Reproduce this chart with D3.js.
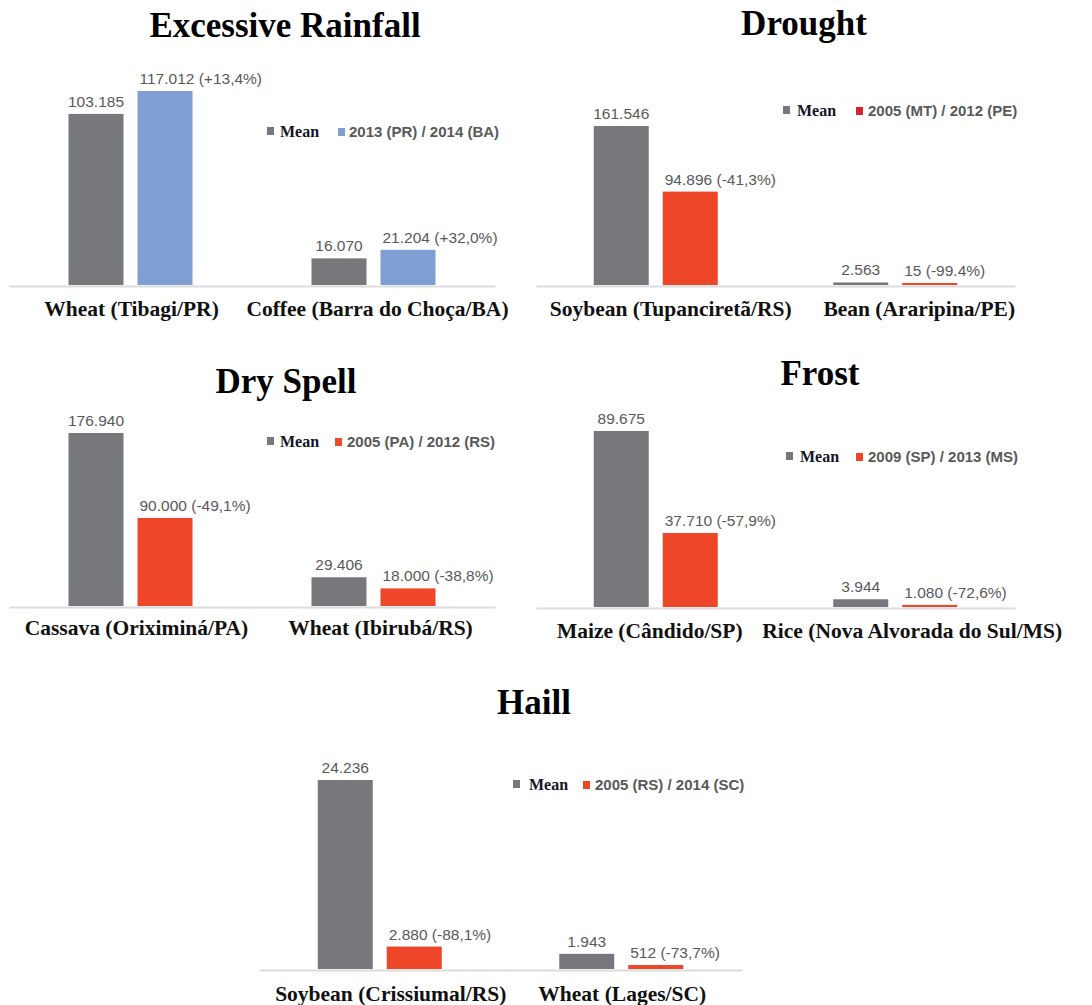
<!DOCTYPE html>
<html>
<head>
<meta charset="utf-8">
<script src="https://cdn.jsdelivr.net/npm/d3@7"></script>
<style>
  html, body { margin: 0; padding: 0; background: #ffffff; }
  svg { display: block; }
</style>
</head>
<body>
<svg id="chart" width="1092" height="1005"></svg>
<script>
// ---------------- DATA ----------------
const panelTitles = ["Excessive Rainfall", "Drought", "Dry Spell", "Frost", "Haill"];
const categories = [
  ["Wheat (Tibagi/PR)", "Coffee (Barra do Choça/BA)"],
  ["Soybean (Tupanciretã/RS)", "Bean (Araripina/PE)"],
  ["Cassava (Oriximiná/PA)", "Wheat (Ibirubá/RS)"],
  ["Maize (Cândido/SP)", "Rice (Nova Alvorada do Sul/MS)"],
  ["Soybean (Crissiumal/RS)", "Wheat (Lages/SC)"]
];
const meanValues = [
  [103185, 16070],
  [161546, 2563],
  [176940, 29406],
  [89675, 3944],
  [24236, 1943]
];
const eventValues = [
  [117012, 21204],
  [94896, 15],
  [90000, 18000],
  [37710, 1080],
  [2880, 512]
];
const changeLabels = [
  ["(+13,4%)", "(+32,0%)"],
  ["(-41,3%)", "(-99.4%)"],
  ["(-49,1%)", "(-38,8%)"],
  ["(-57,9%)", "(-72,6%)"],
  ["(-88,1%)", "(-73,7%)"]
];
const meanLabel = "Mean";
const eventLegendLabels = [
  "2013 (PR) / 2014 (BA)",
  "2005 (MT) / 2012 (PE)",
  "2005 (PA) / 2012 (RS)",
  "2009 (SP) / 2013 (MS)",
  "2005 (RS) / 2014 (SC)"
];

// ---------------- STYLE / LAYOUT ----------------
const meanColor = "#77787c";
const eventColors = ["#7f9fd3", "#ee4628", "#ee4628", "#ee4628", "#ee4628"];
const eventSwatchColors = ["#7f9fd3", "#d42430", "#ee4628", "#ee4628", "#ee4628"];

// x0, x1: axis extent; base: baseline y; maxH: pixel height of the panel's largest value
const layout = [
  { x0: 9,   x1: 495,  base: 285, maxH: 194, titleX: 285, titleY: 37,  legX: 267, legY: 137, meanX: 280, sw2X: 338, txtX: 349, labY: 316, labDx: [1, 4] },
  { x0: 536, x1: 1015, base: 285, maxH: 159, titleX: 804, titleY: 35,  legX: 783, legY: 116, meanX: 797, sw2X: 856, txtX: 868, labY: 316, labDx: [15, 24] },
  { x0: 9,   x1: 495,  base: 606, maxH: 173, titleX: 286, titleY: 393, legX: 267, legY: 447, meanX: 280, sw2X: 335, txtX: 347, labY: 635, labDx: [6, 7] },
  { x0: 536, x1: 1015, base: 607, maxH: 176, titleX: 820, titleY: 385, legX: 786, legY: 462, meanX: 800, sw2X: 856, txtX: 868, labY: 638, labDx: [-6, 17] },
  { x0: 259, x1: 742,  base: 969, maxH: 189, titleX: 534, titleY: 714, legX: 513, legY: 790, meanX: 529, sw2X: 583, txtX: 595, labY: 1001, labDx: [11, 1] }
];

const fmt = d3.formatLocale({ decimal: ",", thousands: ".", grouping: [3], currency: ["", ""] }).format(",d");

const svg = d3.select("#chart");

panelTitles.forEach((title, p) => {
  const L = layout[p];
  const g = svg.append("g");

  const x = d3.scaleBand().domain(categories[p]).range([L.x0, L.x1]).padding(0);
  const inner = d3.scaleBand().domain(["mean", "event"]).range([-62, 62]).paddingInner(0.203).paddingOuter(0);
  const maxV = d3.max([...meanValues[p], ...eventValues[p]]);
  const y = d3.scaleLinear().domain([0, maxV]).range([L.base, L.base - L.maxH]);

  // title
  g.append("text")
    .attr("x", L.titleX).attr("y", L.titleY)
    .attr("text-anchor", "middle")
    .attr("font-family", "Liberation Serif, Times New Roman, serif")
    .attr("font-weight", "bold").attr("font-size", 35)
    .attr("fill", "#000").text(title);

  // bars
  const rows = categories[p].map((c, i) => ({ c, i, mean: meanValues[p][i], ev: eventValues[p][i], ch: changeLabels[p][i] }));
  const barTop = v => Math.min(y(v), L.base - 2);

  rows.forEach(r => {
    const cx = x(r.c) + x.bandwidth() / 2;
    const mx = cx + inner("mean");
    const ex = cx + inner("event");
    const bw = inner.bandwidth();

    g.append("rect").attr("x", mx).attr("y", barTop(r.mean))
      .attr("width", bw).attr("height", L.base - barTop(r.mean)).attr("fill", meanColor);
    g.append("rect").attr("x", ex).attr("y", barTop(r.ev))
      .attr("width", bw).attr("height", L.base - barTop(r.ev)).attr("fill", eventColors[p]);

    g.append("text").attr("x", mx + bw / 2).attr("y", barTop(r.mean) - 7)
      .attr("text-anchor", "middle")
      .attr("font-family", "Liberation Sans, Arial, sans-serif").attr("font-size", 15.5)
      .attr("fill", "#595959").text(fmt(r.mean));
    g.append("text").attr("x", ex + 2).attr("y", barTop(r.ev) - 7)
      .attr("text-anchor", "start")
      .attr("font-family", "Liberation Sans, Arial, sans-serif").attr("font-size", 15.5)
      .attr("fill", "#595959").text(fmt(r.ev) + " " + r.ch);

    g.append("text").attr("x", cx + L.labDx[r.i]).attr("y", L.labY)
      .attr("text-anchor", "middle")
      .attr("font-family", "Liberation Serif, Times New Roman, serif")
      .attr("font-weight", "bold").attr("font-size", 21.5)
      .attr("fill", "#111").text(r.c);
  });

  // axis baseline
  const axis = g.append("g").attr("transform", `translate(0,${L.base + 1})`)
    .call(d3.axisBottom(x).tickSize(0).tickSizeOuter(0).tickFormat(""));
  axis.select(".domain").attr("stroke", "#dcdcdc").attr("stroke-width", 2);

  // legend
  const lg = g.append("g");
  lg.append("rect").attr("x", L.legX).attr("y", L.legY - 10).attr("width", 7).attr("height", 8).attr("fill", meanColor);
  lg.append("text").attr("x", L.meanX).attr("y", L.legY)
    .attr("font-family", "Liberation Serif, Times New Roman, serif")
    .attr("font-weight", "bold").attr("font-size", 16)
    .attr("fill", "#141428").text(meanLabel);
  lg.append("rect").attr("x", L.sw2X).attr("y", L.legY - 9).attr("width", 7).attr("height", 8).attr("fill", eventSwatchColors[p]);
  lg.append("text").attr("x", L.txtX).attr("y", L.legY)
    .attr("font-family", "Liberation Sans, Arial, sans-serif")
    .attr("font-weight", "bold").attr("font-size", 15)
    .attr("fill", "#595959").text(eventLegendLabels[p]);
});
</script>
</body>
</html>
